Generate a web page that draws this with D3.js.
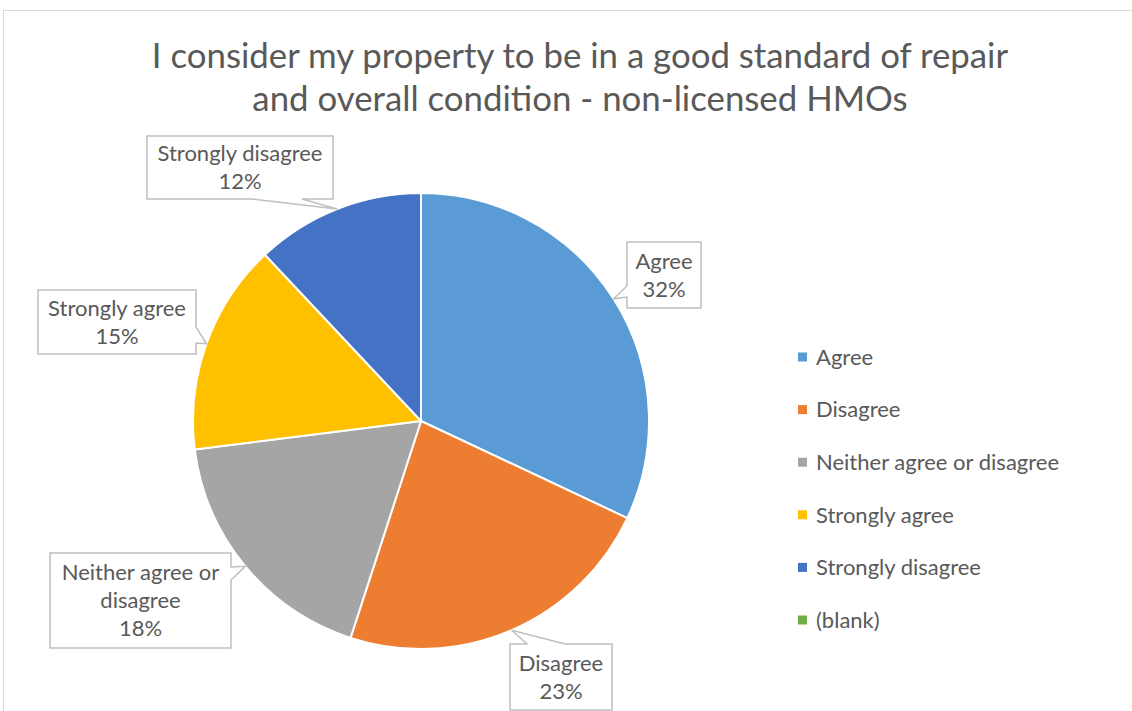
<!DOCTYPE html>
<html>
<head>
<meta charset="utf-8">
<script src="https://cdn.jsdelivr.net/npm/d3@7"></script>
<style>
  html, body { margin: 0; padding: 0; background: #ffffff; }
  svg { display: block; }
  text { font-family: Lato, "Open Sans", "Liberation Sans", sans-serif; fill: #595959; }
</style>
</head>
<body>
<svg id="chart" width="1132" height="711"></svg>
<script>
// Survey responses (share of respondents, %)
const categories = ["Agree", "Disagree", "Neither agree or disagree", "Strongly agree", "Strongly disagree", "(blank)"];
const percentages = [32, 23, 18, 15, 12, 0];
const sliceColors = ["#5B9BD5", "#ED7D31", "#A5A5A5", "#FFC000", "#4472C4", "#70AD47"];
const titleLines = ["I consider my property to be in a good standard of repair", "and overall condition - non-licensed HMOs"];

const W = 1132, H = 711;
const svg = d3.select("#chart");

// chart area frame (open to the right and bottom)
svg.append("rect")
  .attr("x", 3.5).attr("y", 10.5)
  .attr("width", W + 20).attr("height", H + 20)
  .attr("fill", "#ffffff")
  .attr("stroke", "#d9d9d9").attr("stroke-width", 1);

// title
const title = svg.append("text")
  .attr("text-anchor", "middle")
  .style("font-size", "34.8px");
title.selectAll("tspan").data(titleLines).join("tspan")
  .attr("x", 580)
  .attr("y", (d, i) => 68 + i * 43)
  .text(d => d);

// pie
const cx = 421, cy = 421, R = 228;
const data = categories.map((c, i) => ({ name: c, value: percentages[i], color: sliceColors[i] }));
const pie = d3.pie().sort(null).value(d => d.value).startAngle(0).endAngle(2 * Math.PI);
const arcs = pie(data);
const arc = d3.arc().innerRadius(0).outerRadius(R);

const pieG = svg.append("g").attr("transform", `translate(${cx},${cy})`);
pieG.selectAll("path")
  .data(arcs.filter(a => a.data.value > 0))
  .join("path")
  .attr("d", arc)
  .attr("fill", d => d.data.color)
  .attr("stroke", "#ffffff")
  .attr("stroke-width", 2)
  .attr("stroke-linejoin", "round");

// data callouts: box geometry, the edge the pointer leaves from and that edge's base span
const calloutLayout = {
  "Agree":                     { x: 627, y: 242, w: 74,  h: 66, side: "left",   b0: 286, b1: 297, wrap: 70 },
  "Disagree":                  { x: 510, y: 644, w: 102, h: 66, side: "top",    b0: 527, b1: 565, wrap: 100 },
  "Neither agree or disagree": { x: 50,  y: 553, w: 181, h: 95, side: "right",  b0: 567, b1: 580, wrap: 175 },
  "Strongly agree":            { x: 38,  y: 290, w: 158, h: 64, side: "right",  b0: 327, b1: 343, wrap: 155 },
  "Strongly disagree":         { x: 147, y: 136, w: 186, h: 63, side: "bottom", b0: 252, b1: 302, wrap: 185 }
};

function calloutPath(b, tip) {
  const x0 = b.x, y0 = b.y, x1 = b.x + b.w, y1 = b.y + b.h;
  const p = d3.path();
  p.moveTo(x0, y0);
  if (b.side === "top") { p.lineTo(b.b0, y0); p.lineTo(tip[0], tip[1]); p.lineTo(b.b1, y0); }
  p.lineTo(x1, y0);
  if (b.side === "right") { p.lineTo(x1, b.b0); p.lineTo(tip[0], tip[1]); p.lineTo(x1, b.b1); }
  p.lineTo(x1, y1);
  if (b.side === "bottom") { p.lineTo(b.b1, y1); p.lineTo(tip[0], tip[1]); p.lineTo(b.b0, y1); }
  p.lineTo(x0, y1);
  if (b.side === "left") { p.lineTo(x0, b.b1); p.lineTo(tip[0], tip[1]); p.lineTo(x0, b.b0); }
  p.closePath();
  return p.toString();
}

const labelFont = 22, lineH = 28;
const measurer = svg.append("text").style("font-size", labelFont + "px").attr("visibility", "hidden");
function wrapWords(str, maxW) {
  const words = str.split(" ");
  const lines = [];
  let cur = "";
  words.forEach(w => {
    const test = cur ? cur + " " + w : w;
    measurer.text(test);
    if (cur && measurer.node().getComputedTextLength() > maxW) { lines.push(cur); cur = w; }
    else cur = test;
  });
  if (cur) lines.push(cur);
  return lines;
}

const calloutG = svg.append("g");
arcs.filter(a => a.data.value > 0).forEach(a => {
  const b = calloutLayout[a.data.name];
  const mid = (a.startAngle + a.endAngle) / 2;
  const tip = [cx + R * Math.sin(mid), cy - R * Math.cos(mid)];
  calloutG.append("path")
    .attr("d", calloutPath(b, tip))
    .attr("fill", "#ffffff")
    .attr("stroke", "#bfbfbf")
    .attr("stroke-width", 1.5)
    .attr("stroke-linejoin", "miter");
  const lines = wrapWords(a.data.name, b.wrap).concat([a.data.value + "%"]);
  const top = b.y + b.h / 2 - (lines.length - 1) * lineH / 2;
  const t = calloutG.append("text")
    .attr("text-anchor", "middle")
    .style("font-size", labelFont + "px");
  t.selectAll("tspan").data(lines).join("tspan")
    .attr("x", b.x + b.w / 2)
    .attr("y", (d, i) => top + i * lineH)
    .attr("dy", "0.35em")
    .text(d => d);
});
measurer.remove();

// legend
const legendY = d3.scalePoint().domain(categories).range([357, 620]);
const legend = svg.append("g");
const items = legend.selectAll("g").data(data).join("g")
  .attr("transform", d => `translate(798,${legendY(d.name)})`);
items.append("rect")
  .attr("x", 0).attr("y", -4.5).attr("width", 9).attr("height", 9)
  .attr("fill", d => d.color);
items.append("text")
  .attr("x", 18).attr("y", 0).attr("dy", "0.35em")
  .style("font-size", "22px")
  .text(d => d.name);
</script>
</body>
</html>
